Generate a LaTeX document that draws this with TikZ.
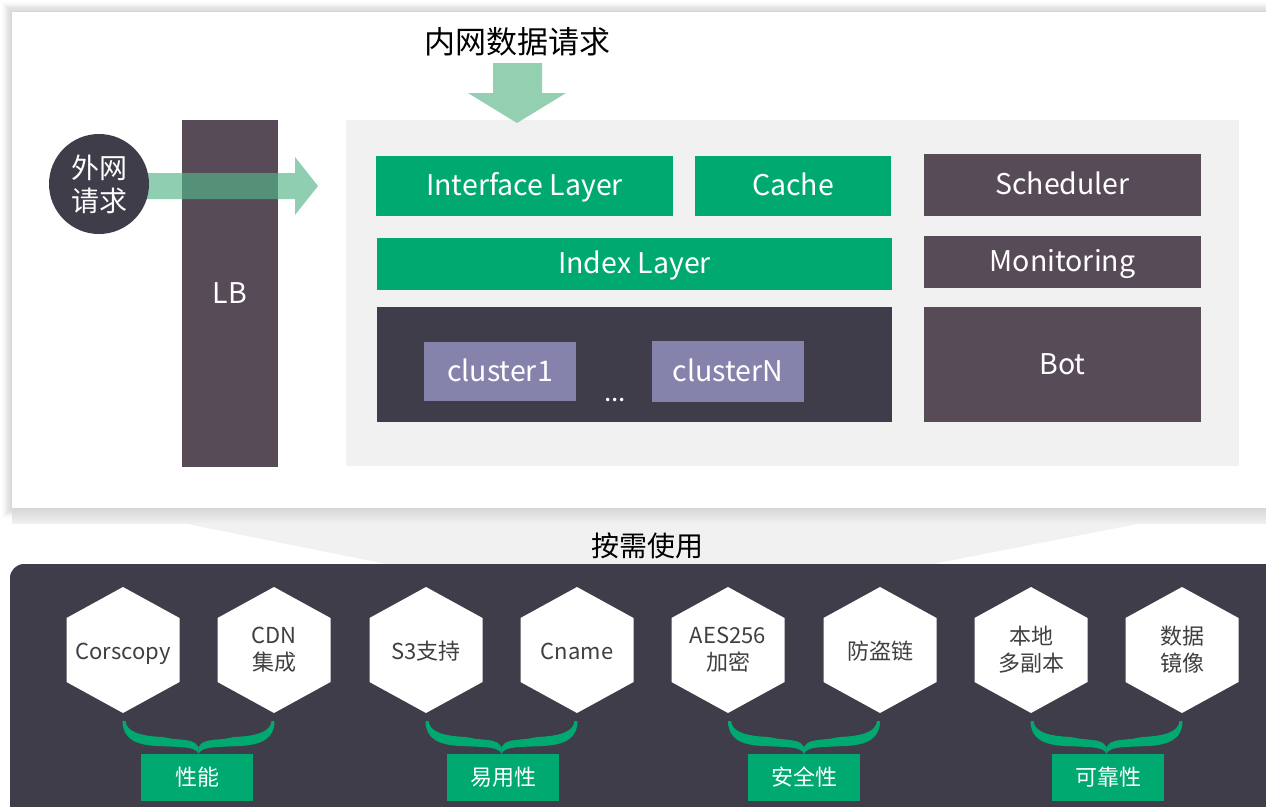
\documentclass[tikz,border=0pt]{standalone}
\usepackage{fontspec}
\setmainfont{Noto Sans CJK SC}
\usetikzlibrary{calc}
\definecolor{cgreen}{RGB}{0,169,112}
\definecolor{clgreen}{RGB}{147,207,177}
\definecolor{carrow}{RGB}{85,182,137}
\definecolor{cpurple}{RGB}{87,75,88}
\definecolor{cdark}{RGB}{63,61,74}
\definecolor{ccluster}{RGB}{133,131,171}
\definecolor{cpanel}{RGB}{241,241,241}
\definecolor{ctext}{RGB}{64,64,64}
\newcommand{\hexnode}[4][0]{%
  \fill[white] (#3,587) -- (#3+56.5,618) -- (#3+56.5,682) -- (#3,713) -- (#3-56.5,682) -- (#3-56.5,618) -- cycle;
  \node[hextext] (#2) at (#3,650+#1) {#4};}
\newcommand{\gbrace}[2]{%
  \begin{scope}[shift={(#2,0)}]
    \coordinate (#1) at (0,754);
    \foreach \s in {1,-1}{
    \fill[cgreen,xscale=\s] (-76,721) .. controls (-76,738) and (-64,745) .. (-41,746) -- (-18,747)
      .. controls (-6,748) and (-1,750) .. (0,754) -- (0,747)
      .. controls (-3,741) and (-10,740) .. (-25,739) -- (-36,737)
      .. controls (-58,736) and (-72,732) .. (-73,721) -- cycle;}
  \end{scope}}
\begin{document}
\begin{tikzpicture}[x=1pt,y=-1pt,
  every node/.style={inner sep=0pt},
  wtext/.style={text=white,font=\fontsize{28.5}{32}\selectfont,text height=19pt,text depth=0pt},
  gbox/.style={wtext,fill=cgreen},
  pbox/.style={wtext,fill=cpurple},
  cbox/.style={wtext,fill=ccluster},
  hextext/.style={text=ctext,align=center,font=\fontsize{22}{27}\selectfont},
  lbox/.style={fill=cgreen,text=white,minimum width=112,minimum height=47,font=\fontsize{22}{26}\selectfont}]
\useasboundingbox (0,0) rectangle (1266,806);
\clip (0,0) rectangle (1266,806);
\fill[white] (0,0) rectangle (1266,806);
% top panel shadow
\foreach \i in {1,...,8}{
  \fill[black,opacity=0.018] (12-\i*1.2,12-\i*1.2) rectangle (1290,508+\i*1.2);}
\shade[top color=black!16,bottom color=black!6] (12,508) rectangle (1266,523);
\fill[white] (12,12) rectangle (1290,508);
% trapezoid
\fill[cpanel] (183,523) -- (1142,523) -- (933,564) -- (386,564) -- cycle;
% inner gray panel
\node[fill=cpanel,minimum width=893,minimum height=346] (panel) at (792.5,293) {};
% LB
\node[pbox,minimum width=96,minimum height=347] (lb) at (230,293.5) {LB};
% title and arrow
\node[font=\fontsize{31}{34}\selectfont] (title) at (517,42) {内网数据请求};
\fill[clgreen] (493,63) -- (542,63) -- (542,93) -- (566,93) -- (517,123) -- (468,93) -- (493,93) -- cycle;
% right arrow
\fill[carrow,opacity=0.66] (120,173) -- (295,173) -- (295,157) -- (318,186) -- (295,215) -- (295,199) -- (120,199) -- cycle;
\node[circle,fill=cdark,minimum size=100,text=white,align=center,font=\fontsize{28}{33}\selectfont] (ext) at (99,184) {外网\\请求};
% boxes
\node[gbox,minimum width=297,minimum height=60] (iface) at (524.5,186) {Interface Layer};
\node[gbox,minimum width=196,minimum height=60] (cache) at (793,186) {Cache};
\node[pbox,minimum width=277,minimum height=62] (sched) at (1062.5,185) {Scheduler};
\node[gbox,minimum width=515,minimum height=52] (index) at (634.5,264) {Index Layer};
\node[pbox,minimum width=277,minimum height=52] (monit) at (1062.5,262) {Monitoring};
\node[fill=cdark,minimum width=515,minimum height=115] (clusters) at (634.5,364.5) {};
\node[cbox,minimum width=152,minimum height=59] (c1) at (500,371.5) {cluster1};
\node[cbox,minimum width=152,minimum height=61] (cn) at (728,371.5) {clusterN};
\node[text=white,font=\fontsize{26}{30}\selectfont,anchor=base] (dots) at (615,401) {...};
\node[pbox,minimum width=277,minimum height=115] (bot) at (1062.5,364.5) {Bot};
% bottom
\node[font=\fontsize{28}{30}\selectfont] (ondemand) at (647,546) {按需使用};
\fill[cdark,rounded corners=14] (10,564) rectangle (1300,840);
\hexnode[4]{h1}{123}{Corscopy}
\hexnode{h2}{274}{CDN\\集成}
\hexnode[1.5]{h3}{426}{S3支持}
\hexnode[1.5]{h4}{577}{Cname}
\hexnode{h5}{728}{AES256\\加密}
\hexnode[1.5]{h6}{880}{防盗链}
\hexnode{h7}{1031}{本地\\多副本}
\hexnode{h8}{1182}{数据\\镜像}
\gbrace{b1}{198.5}
\gbrace{b2}{501.5}
\gbrace{b3}{804}
\gbrace{b4}{1106.5}
\node[lbox] (perf) at (197,777) {性能};
\node[lbox] (ease) at (503,777) {易用性};
\node[lbox] (sec) at (804,777) {安全性};
\node[lbox] (rel) at (1108,777) {可靠性};
\end{tikzpicture}
\end{document}
